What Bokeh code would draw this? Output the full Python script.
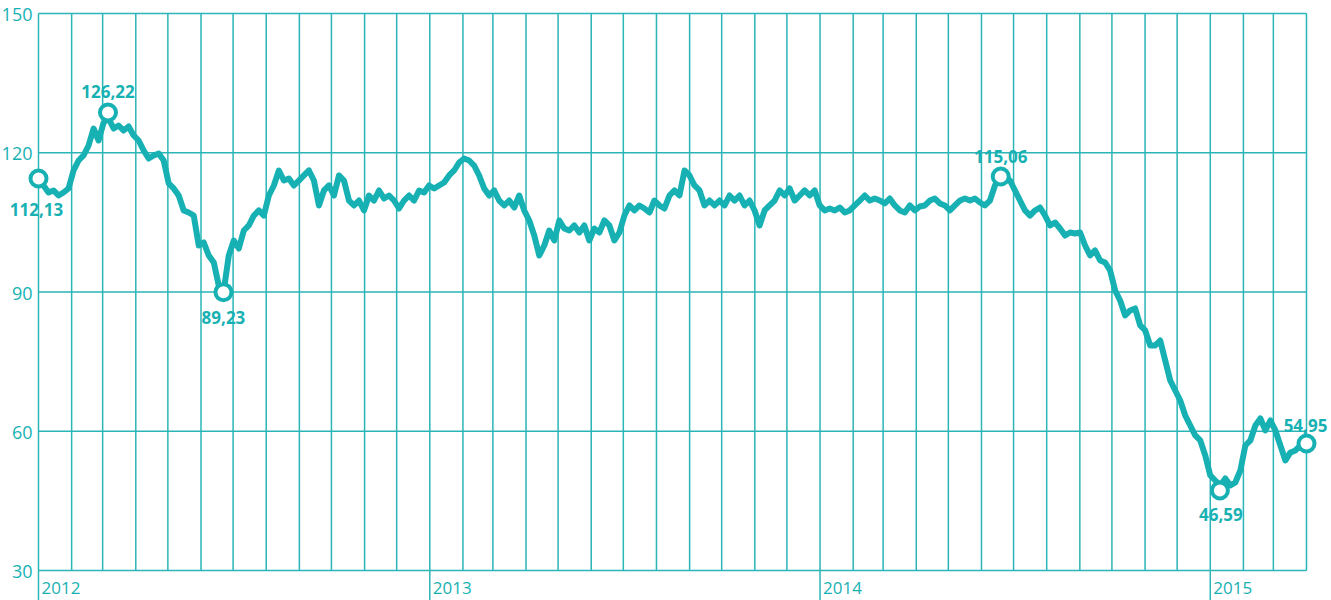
import pandas as pd
from bokeh.plotting import figure
from bokeh.models import Range1d, ColumnDataSource
from bokeh.core.properties import value
from bokeh.embed import file_html
from bokeh.resources import INLINE

# ---- data ----
start_date = "2012-01-01"
end_date = "2015-03-31"
prices = [
    114.45, 112.95, 111.44, 111.87, 110.79, 111.44, 112.30, 116.18, 118.33, 119.41,
    121.56, 125.22, 122.64, 126.52, 127.38, 125.22, 125.87, 124.79, 125.66, 123.72,
    122.64, 120.49, 118.76, 119.41, 119.84, 118.33, 113.38, 112.30, 110.79, 107.56,
    107.13, 106.48, 100.02, 100.67, 97.87, 96.36, 91.40, 90.33, 97.87, 101.10,
    99.37, 103.25, 104.33, 106.48, 107.56, 106.48, 110.79, 112.95, 116.18, 114.02,
    114.45, 112.95, 114.02, 115.10, 116.18, 114.02, 108.64, 111.87, 112.95, 110.79,
    115.10, 114.02, 109.71, 108.64, 109.71, 107.56, 110.79, 109.71, 111.87, 110.14,
    110.79, 109.71, 107.99, 109.71, 110.79, 109.71, 111.87, 111.44, 112.95, 112.30,
    112.95, 113.59, 115.10, 116.18, 117.90, 118.76, 118.33, 117.25, 115.10, 112.30,
    110.79, 111.87, 109.71, 108.64, 109.71, 108.21, 110.79, 107.56, 105.41, 102.17,
    97.87, 100.02, 103.25, 101.10, 105.41, 103.68, 103.25, 104.33, 102.82, 104.33,
    101.10, 103.68, 102.82, 105.41, 104.33, 101.10, 102.82, 106.48, 108.64, 107.56,
    108.64, 107.99, 107.13, 109.71, 108.64, 107.99, 110.79, 111.87, 110.79, 116.18,
    115.10, 112.95, 111.87, 108.64, 109.71, 108.64, 109.71, 108.64, 110.79, 109.71,
    110.79, 108.64, 109.71, 107.56, 104.33, 107.56, 108.64, 109.71, 111.87, 110.79,
    112.30, 109.71, 110.79, 111.87, 110.79, 111.87, 108.64, 107.56, 107.99, 107.56,
    108.21, 107.13, 107.56, 108.64, 109.71, 110.79, 109.71, 110.14, 109.71, 109.07,
    110.14, 108.64, 107.56, 107.13, 108.64, 107.56, 108.42, 108.64, 109.71, 110.14,
    109.07, 108.64, 107.56, 108.64, 109.71, 110.14, 109.71, 110.14, 109.28, 108.64,
    109.71, 112.95, 115.10, 114.88, 114.02, 111.87, 109.71, 107.56, 106.48, 107.56,
    108.21, 106.48, 104.33, 104.97, 103.68, 102.17, 102.82, 102.60, 102.82, 100.02,
    97.87, 98.94, 96.79, 96.36, 94.63, 90.33, 88.17, 84.94, 86.02, 86.45,
    82.79, 81.71, 78.48, 78.48, 79.55, 75.25, 70.94, 68.78, 66.63, 63.40,
    61.24, 59.09, 58.01, 54.78, 50.47, 49.39, 48.32, 49.82, 48.32, 48.96,
    51.55, 56.93, 58.01, 61.24, 62.75, 60.17, 62.32, 60.17, 56.93, 53.70,
    55.43, 55.86, 56.93, 57.36,
]
marker_dates = ["2012-01-01", "2012-03-06", "2012-06-22", "2014-06-19", "2015-01-10", "2015-04-01"]
marker_values = [114.45, 128.67, 89.96, 114.88, 47.24, 57.36]
marker_labels = ["112,13", "126,22", "89,23", "115,06", "46,59", "54,95"]
y_ticks = [30, 60, 90, 120, 150]
y_tick_labels = ["30", "60", "90", "120", "150"]
year_dates = ["2012-01-01", "2013-01-01", "2014-01-01", "2015-01-01"]
year_labels = ["2012", "2013", "2014", "2015"]
axis_start = "2012-01-01"
axis_end = "2015-04-01"

# ---- layout / style ----
W, H = 1331, 600
PL, PR, PT, PB = 38, 1306, 13, 570          # plot area in pixels
TEAL = "#17b1b3"
GRID = "#2bb5b7"
FONT = "Open Sans"
label_dx = [-2, 0, 0, 0, 1, -1]
label_dy = [31, -21, 25, -20, 24, -18]

x0 = pd.Timestamp(axis_start)
x1 = pd.Timestamp(axis_end)
per_px = (x1 - x0) / (PR - PL)
x_lo = x0 - per_px * PL
x_hi = x1 + per_px * (W - PR)
ymin, ymax = min(y_ticks), max(y_ticks)
upp = (ymax - ymin) / (PB - PT)
y_lo = ymin - upp * (H - PB)
y_hi = ymax + upp * PT

p = figure(width=W, height=H, x_axis_type="datetime",
           x_axis_location=None, y_axis_location=None,
           output_backend="svg", toolbar_location=None,
           x_range=Range1d(x_lo.to_pydatetime(), x_hi.to_pydatetime()),
           y_range=Range1d(y_lo, y_hi),
           min_border=0)
p.outline_line_color = None
p.grid.visible = False
p.background_fill_color = "white"
p.border_fill_color = "white"

months = pd.date_range(axis_start, axis_end, freq="MS")
# vertical month grid lines
p.segment(x0=months, y0=[ymin] * len(months), x1=months, y1=[ymax] * len(months),
          line_color=GRID, line_width=1.5)
# horizontal value grid lines
p.segment(x0=[x0] * len(y_ticks), y0=y_ticks, x1=[x1] * len(y_ticks), y1=y_ticks,
          line_color=GRID, line_width=1.5)
# year ticks below the plot
yd = pd.to_datetime(year_dates)
p.segment(x0=yd, y0=[ymin] * len(yd), x1=yd, y1=[y_lo] * len(yd),
          line_color=GRID, line_width=1.5)

# y tick labels
p.text(x=[x0] * len(y_ticks), y=y_ticks, text=y_tick_labels, x_offset=-6, y_offset=1,
       text_align="right", text_baseline="middle", text_color=TEAL,
       text_font=value(FONT), text_font_size=value("18px"))
# year labels
p.text(x=yd, y=[ymin] * len(yd), text=year_labels, x_offset=3, y_offset=17,
       text_align="left", text_baseline="alphabetic", text_color=TEAL,
       text_font=value(FONT), text_font_size=value("17px"))

dates = pd.date_range(start_date, end_date, periods=len(prices))
src = ColumnDataSource(dict(x=dates, y=prices))
p.line("x", "y", source=src, line_color=TEAL, line_width=6, line_join="round", line_cap="round")

msrc = ColumnDataSource(dict(x=pd.to_datetime(marker_dates), y=marker_values,
                             t=marker_labels, dx=label_dx, dy=label_dy))
p.scatter("x", "y", source=msrc, size=16, fill_color="white", line_color=TEAL, line_width=4)
p.text("x", "y", text="t", source=msrc, x_offset="dx", y_offset="dy",
       text_align="center", text_baseline="middle", text_color=TEAL,
       text_font=value(FONT), text_font_style="bold", text_font_size=value("17px"))

open("out.html", "w").write(file_html(p, INLINE))
